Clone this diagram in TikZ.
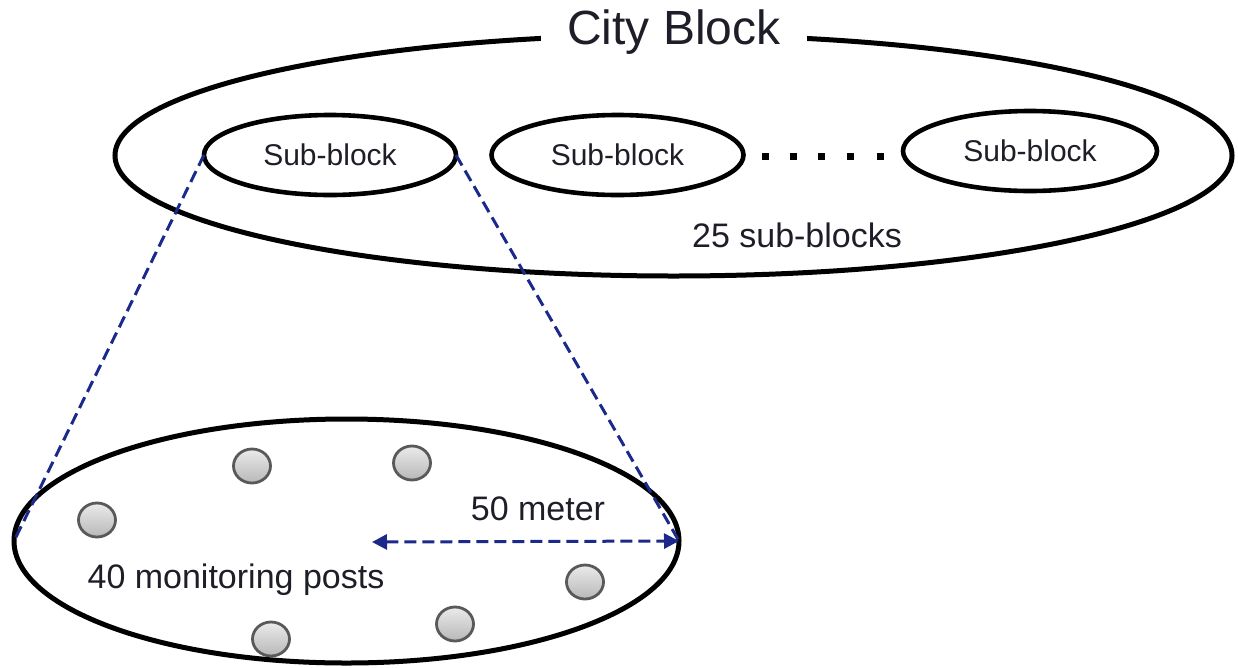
\documentclass[tikz,border=0pt]{standalone}
\usepackage{fontspec}
\setmainfont{Liberation Sans}
\usetikzlibrary{shapes.geometric,arrows.meta}
\definecolor{navy}{HTML}{1B2A8A}
\definecolor{txt}{HTML}{1E1E28}
\tikzset{
  oval/.style={ellipse, draw=black, line width=5pt, inner sep=0pt, outer sep=0pt},
  subblk/.style={oval, line width=4.6pt, minimum width=252pt, minimum height=80pt,
     font=\fontsize{30}{32}\selectfont, text=txt},
  post/.style={ellipse, draw=black!65, line width=2.8pt, inner sep=0pt, outer sep=0pt,
     minimum width=37pt, minimum height=34pt, top color=black!8, bottom color=black!28},
  lbl/.style={font=\fontsize{34}{36}\selectfont, text=txt, inner sep=0pt},
  zoomline/.style={draw=navy, line width=3pt, dash pattern=on 12pt off 6pt},
  dotsq/.style={fill=black, minimum size=7pt, inner sep=0pt},
}
\begin{document}
\begin{tikzpicture}[x=1pt,y=-1pt]
\useasboundingbox (0,0) rectangle (1238,667);
% city block
\node[oval, minimum width=1117pt, minimum height=241pt] (city) at (673.5,155.5) {};
\node[fill=white, inner xsep=26pt, inner ysep=4pt, font=\fontsize{48}{50}\selectfont, text=txt] (citylbl) at (674,32) {City Block};
% sub-blocks
\node[subblk] (sb1) at (330,155) {Sub-block};
\node[subblk] (sb2) at (617.5,155) {Sub-block};
\node[subblk, minimum width=254pt] (sb3) at (1030,151) {Sub-block};
\foreach \x [count=\i] in {765,793,821,850,880} \node[dotsq] (d\i) at (\x,156) {};
\node[lbl] (n25) at (797,235) {25 sub-blocks};
% zoomed sub-block
\node[oval, minimum width=665pt, minimum height=244pt] (zoom) at (346.5,541) {};
\draw[zoomline] (sb1.west) -- (zoom.west);
\draw[zoomline] (sb1.east) -- (zoom.east);
% posts
\node[post] (p1) at (252,466) {};
\node[post] (p2) at (412,463) {};
\node[post] (p3) at (97,520) {};
\node[post] (p4) at (585,582) {};
\node[post] (p5) at (455,624) {};
\node[post] (p6) at (271,639) {};
% radius arrow
\coordinate (rc) at (372,542);
\draw[zoomline, {Triangle[length=15pt,width=15pt]}-{Triangle[length=15pt,width=15pt]}] (rc) -- (zoom.east);
\node[lbl] (m50) at (538,509) {50 meter};
\node[lbl] (mon) at (236,580) {40 monitoring posts};
\end{tikzpicture}
\end{document}
